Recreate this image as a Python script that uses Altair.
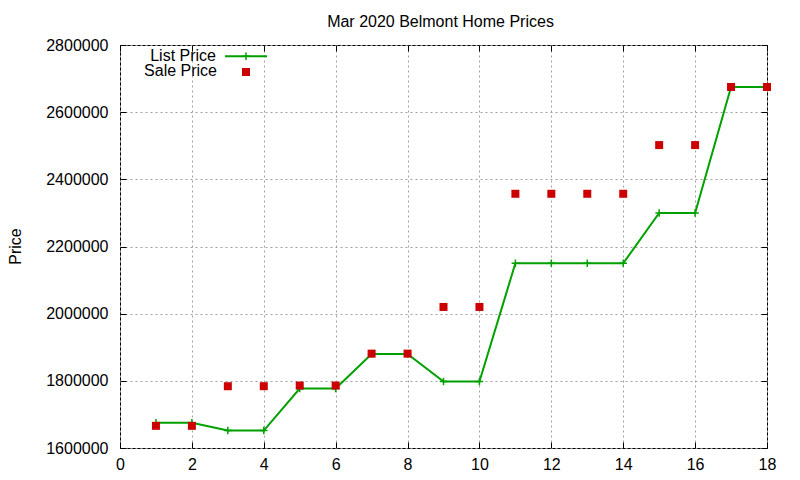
import altair as alt
import pandas as pd

# ---- data ----
house_index = list(range(1, 19))
list_price = [1675000, 1675000, 1652000, 1652000, 1777000, 1777000, 1880000, 1880000,
              1798000, 1798000, 2150000, 2150000, 2150000, 2150000, 2300000, 2300000,
              2675000, 2675000]
sale_price = [1666000, 1666000, 1784000, 1784000, 1786000, 1786000, 1881000, 1881000,
              2020000, 2020000, 2357000, 2357000, 2357000, 2357000, 2502000, 2502000,
              2675000, 2675000]
x_ticks = list(range(0, 19, 2))
y_ticks = list(range(1600000, 2800001, 200000))
legend_labels = ["List Price", "Sale Price"]

df = pd.DataFrame({"n": house_index, "list": list_price, "sale": sale_price})
df_leg = pd.DataFrame({"label": legend_labels})

FONT = "Liberation Sans"
GREEN = "#00a000"
RED = "#cc0000"
PLUS = "M-1,0H1M0,-1V1"

xscale = alt.Scale(domain=[0, 18], nice=False, zero=False)
yscale = alt.Scale(domain=[1600000, 2800000], nice=False, zero=False)

common = dict(domain=False, ticks=True, tickSize=6, tickColor="black", tickWidth=1,
              offset=-6, labelFont=FONT, labelFontSize=16, labelColor="black")

x_bottom = alt.Axis(values=x_ticks, title=None, grid=True, gridColor="#a0a0a0",
                    gridDash=[2, 3], gridWidth=1, labelPadding=8, labelFlush=False,
                    **common)
y_left = alt.Axis(values=y_ticks, format="d", title="Price", grid=True, gridColor="#a0a0a0",
                  gridDash=[2, 3], gridWidth=1, labelPadding=12,
                  titleFont=FONT, titleFontSize=16, titleFontWeight="normal",
                  titleColor="black", titleAngle=270, titleX=-111, titleY=201,
                  titleAlign="center", titleBaseline="middle", **common)
x_top = alt.Axis(values=x_ticks, title=None, grid=False, labels=False, orient="top", **common)
y_right = alt.Axis(values=y_ticks, title=None, grid=False, labels=False, orient="right", **common)

line = alt.Chart(df).mark_line(color=GREEN, strokeWidth=2).encode(
    x=alt.X("n:Q", scale=xscale, axis=x_bottom),
    y=alt.Y("list:Q", scale=yscale, axis=y_left),
)
plus = alt.Chart(df).mark_point(shape=PLUS, stroke=GREEN, strokeWidth=1.5, size=56,
                                filled=False, opacity=1).encode(
    x=alt.X("n:Q", scale=xscale, axis=None),
    y=alt.Y("list:Q", scale=yscale, axis=None),
)
squares = alt.Chart(df).mark_square(color=RED, size=64, opacity=1).encode(
    x=alt.X("n:Q", scale=xscale, axis=x_top),
    y=alt.Y("sale:Q", scale=yscale, axis=y_right),
)

# legend (top-left, inside plot)
leg_list = df_leg[df_leg.label == "List Price"]
leg_sale = df_leg[df_leg.label == "Sale Price"]
leg_text1 = alt.Chart(leg_list).mark_text(align="right", baseline="alphabetic", font=FONT,
                                          fontSize=16, color="black").encode(
    text="label:N", x=alt.value(96), y=alt.value(15.7))
leg_text2 = alt.Chart(leg_sale).mark_text(align="right", baseline="alphabetic", font=FONT,
                                          fontSize=16, color="black").encode(
    text="label:N", x=alt.value(97), y=alt.value(30.5))
leg_rule = alt.Chart(leg_list).mark_rule(color=GREEN, strokeWidth=2).encode(
    x=alt.value(105), x2=alt.value(147), y=alt.value(11.3))
leg_plus = alt.Chart(leg_list).mark_point(shape=PLUS, stroke=GREEN, strokeWidth=1.5, size=56,
                                          filled=False, opacity=1).encode(
    x=alt.value(126), y=alt.value(11.3))
leg_sq = alt.Chart(leg_sale).mark_square(color=RED, size=64, opacity=1).encode(
    x=alt.value(126), y=alt.value(27))

chart = alt.layer(line, plus, squares, leg_rule, leg_plus, leg_sq, leg_text1, leg_text2).resolve_axis(
    x="independent", y="independent"
).properties(
    width=647,
    height=403,
    autosize=alt.AutoSizeParams(type="none"),
    padding={"left": 112, "top": 37, "right": 25, "bottom": 24},
    title=alt.Title("Mar 2020 Belmont Home Prices", fontSize=16, font=FONT,
                    fontWeight="normal", color="black", anchor="middle", frame="group",
                    baseline="alphabetic", offset=18, dx=-3, dy=24),
    background="white",
).configure_view(stroke="black", strokeWidth=1)

chart.save("out.html", embed_options={"renderer": "svg", "actions": False})
